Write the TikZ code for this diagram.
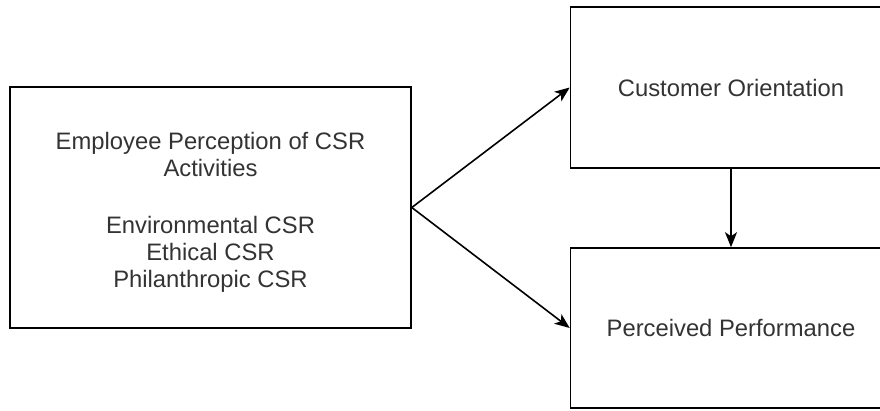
\documentclass[tikz,border=0pt]{standalone}
\usepackage{fontspec}
\setmainfont{Liberation Sans}
\usetikzlibrary{arrows.meta}
\tikzset{
  box/.style={draw, line width=1.6pt, inner sep=0pt, align=center,
    text=black!80, font=\fontsize{23.8}{27.2}\selectfont},
  link/.style={-{Stealth[length=15pt,width=12pt,inset=4pt]}, line width=1.6pt}
}
\begin{document}
\begin{tikzpicture}[x=1pt,y=-1pt]
     \useasboundingbox (0,0) rectangle (880,410);
     \clip (0,0) rectangle (880,410);
     \node[box, minimum width=401pt, minimum height=241pt] (csr) at (210.5,207.5)
       {\rule{0pt}{27pt}Employee Perception of CSR\\Activities\\[30pt]Environmental CSR\\Ethical CSR\\Philanthropic CSR};
     \node[box, minimum width=321pt, minimum height=161pt] (orient) at (731,87.5) {Customer Orientation};
     \node[box, minimum width=321pt, minimum height=160pt] (perf) at (731,328) {Perceived Performance};
     \draw[link] (csr.east) -- (orient.west);
     \draw[link] (csr.east) -- (perf.west);
     \draw[link] (orient.south) -- (perf.north);
\end{tikzpicture}
\end{document}
